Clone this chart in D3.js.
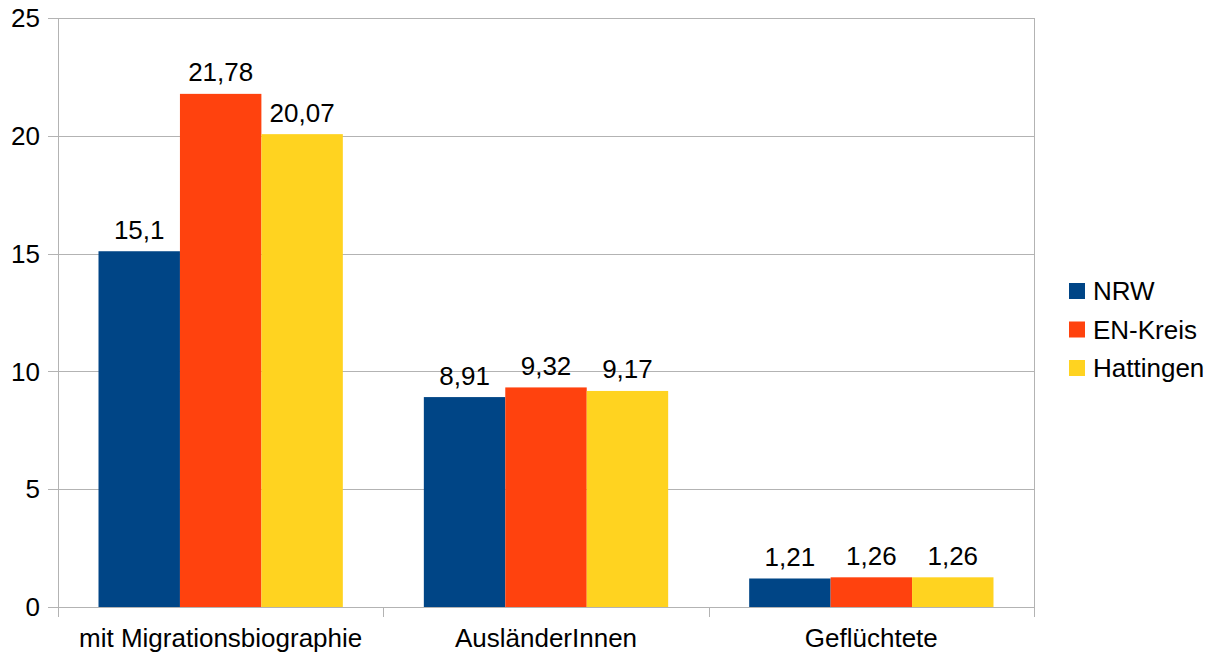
<!DOCTYPE html>
<html>
<head>
<meta charset="utf-8">
<script src="https://cdn.jsdelivr.net/npm/d3@7"></script>
<style>
  html, body { margin: 0; padding: 0; background: #fff; }
  svg { display: block; font-family: "Liberation Sans", Arial, sans-serif; }
</style>
</head>
<body>
<svg id="chart" width="1210" height="656"></svg>
<script>
// Anteile in Prozent
const categories = ["mit Migrationsbiographie", "AusländerInnen", "Geflüchtete"];
const seriesNames = ["NRW", "EN-Kreis", "Hattingen"];
const nrw = [15.1, 8.91, 1.21];
const enKreis = [21.78, 9.32, 1.26];
const hattingen = [20.07, 9.17, 1.26];
const yTicks = [0, 5, 10, 15, 20, 25];
const colors = ["#004586", "#ff420e", "#ffd320"];

const seriesValues = [nrw, enKreis, hattingen];
const fmt = v => String(v).replace(".", ",");

const svg = d3.select("#chart");
const plot = { left: 58, right: 1034, top: 18, bottom: 607 };
const fontSize = 26;
const gridColor = "#b3b3b3";

const y = d3.scaleLinear().domain([0, 25]).range([plot.bottom, plot.top]);
const x0 = d3.scaleBand().domain(categories).range([plot.left, plot.right]).padding(0);
const groupPad = x0.bandwidth() * 0.1245;
const x1 = d3.scaleBand().domain(seriesNames)
  .range([groupPad, x0.bandwidth() - groupPad]).padding(0);

// Gitternetzlinien
svg.append("g").selectAll("line").data(yTicks).join("line")
  .attr("x1", plot.left - 10).attr("x2", plot.right)
  .attr("y1", d => Math.round(y(d)) + 0.5).attr("y2", d => Math.round(y(d)) + 0.5)
  .attr("stroke", gridColor).attr("stroke-width", 1);

// Y-Achse und rechter Rand
[plot.left, plot.right].forEach(px => {
  svg.append("line")
    .attr("x1", px + 0.5).attr("x2", px + 0.5)
    .attr("y1", plot.top).attr("y2", plot.bottom + 10)
    .attr("stroke", gridColor).attr("stroke-width", 1);
});

// Kategorie-Trennstriche
const boundaries = categories.map(c => x0(c)).concat([plot.right]);
svg.append("g").selectAll("line").data(boundaries.slice(1, -1)).join("line")
  .attr("x1", d => Math.round(d) + 0.5).attr("x2", d => Math.round(d) + 0.5)
  .attr("y1", plot.bottom).attr("y2", plot.bottom + 10)
  .attr("stroke", gridColor);

// Y-Beschriftung
svg.append("g").selectAll("text").data(yTicks).join("text")
  .attr("x", 40).attr("y", d => y(d))
  .attr("dy", "0.35em")
  .attr("text-anchor", "end")
  .attr("font-size", fontSize)
  .attr("fill", "#000")
  .text(d => d);

// Balken
const groups = svg.append("g").selectAll("g").data(categories).join("g")
  .attr("transform", c => `translate(${x0(c)},0)`);

groups.each(function(c, ci) {
  const g = d3.select(this);
  const data = seriesNames.map((s, si) => ({ s, si, v: seriesValues[si][ci] }));
  g.selectAll("rect").data(data).join("rect")
    .attr("x", d => x1(d.s))
    .attr("width", x1.bandwidth())
    .attr("y", d => y(d.v))
    .attr("height", d => y(0) - y(d.v))
    .attr("fill", d => colors[d.si]);
  g.selectAll("text").data(data).join("text")
    .attr("x", d => x1(d.s) + x1.bandwidth() / 2)
    .attr("y", d => y(d.v) - 12.5)
    .attr("text-anchor", "middle")
    .attr("font-size", fontSize)
    .attr("fill", "#000")
    .text(d => fmt(d.v));
});

// Kategorie-Beschriftung
svg.append("g").selectAll("text").data(categories).join("text")
  .attr("x", c => x0(c) + x0.bandwidth() / 2)
  .attr("y", 647)
  .attr("text-anchor", "middle")
  .attr("font-size", fontSize)
  .attr("fill", "#000")
  .text(c => c);

// Legende
const legend = svg.append("g").selectAll("g").data(seriesNames).join("g")
  .attr("transform", (s, i) => `translate(1069, ${291 + i * 38.5})`);
legend.append("rect")
  .attr("x", 0).attr("y", -8).attr("width", 16).attr("height", 16)
  .attr("fill", (s, i) => colors[i]);
legend.append("text")
  .attr("x", 24).attr("y", 0).attr("dy", "0.35em")
  .attr("font-size", fontSize)
  .attr("fill", "#000")
  .text(s => s);
</script>
</body>
</html>
